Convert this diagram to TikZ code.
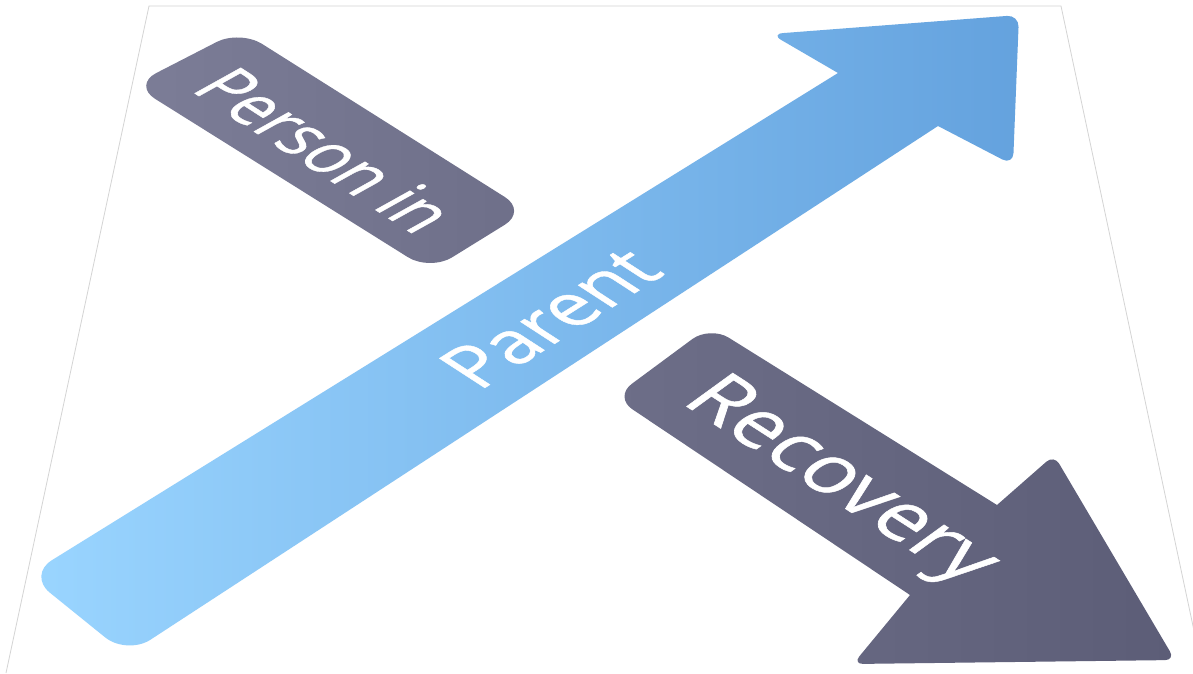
\documentclass[tikz,border=0pt]{standalone}
\usepackage{fontspec}
\newfontfamily\labelfont[FakeBold=0.7]{Open Sans}
\definecolor{blueTail}{HTML}{9AD5FF}
\definecolor{blueHead}{HTML}{64A2DE}
\definecolor{slateA}{HTML}{7C7D97}
\definecolor{slateB}{HTML}{6E6F89}
\definecolor{slateC}{HTML}{6D6E88}
\definecolor{slateD}{HTML}{5C5D77}
\definecolor{frameGray}{HTML}{D4D4D4}
\begin{document}
\begin{tikzpicture}[x=1pt,y=-1pt,
  label text/.style={text=white, inner sep=0pt,
    font=\labelfont\fontsize{70}{80}\selectfont},
  frame line/.style={draw=frameGray, line width=0.8pt}]
\useasboundingbox (0,0) rectangle (1193,673);
\clip (0,0) rectangle (1193,673);
\fill[white] (0,0) rectangle (1193,673);

% outline of the tilted sheet
\draw[frame line] (6,673) -- (149,6) -- (1061,6) -- (1203,673);

% rising arrow
\shade[left color=blueTail, right color=blueHead]
  (838,73) [rounded corners=12pt] -- (771,34) -- (1019,15) -- (1013,165)
  [sharp corners] -- (938,126) [rounded corners=28pt] -- (127,655) -- (28,575)
  [sharp corners] -- cycle;

% label box, upper left
\shade[left color=slateA, right color=slateB, rounded corners=26pt]
  (240,30) -- (527,211) -- (430,271) -- (133,85) -- cycle;

% falling arrow
\shade[left color=slateC, right color=slateD]
  (997,505) [rounded corners=10pt] -- (1054,455) -- (1175,660) -- (853,664)
  [sharp corners] -- (910,595) [rounded corners=22pt] -- (614,397) -- (710,326)
  [sharp corners] -- cycle;

% labels, set in the plane of the sheet
\begin{scope}[shift={(326,150)}]
  \node[label text, cm={0.735,-0.474,0.921,0.512,(0,0)}] (person) at (0,0) {Person in};
\end{scope}
\begin{scope}[shift={(550,318)}]
  \node[label text, cm={0.869,0.549,-0.909,0.590,(0,0)}] (parent) at (0,0) {Parent};
\end{scope}
\begin{scope}[shift={(838,483)}]
  \node[label text, cm={0.968,-0.623,0.923,0.670,(0,0)}] (recovery) at (0,0) {Recovery};
\end{scope}
\end{tikzpicture}
\end{document}
